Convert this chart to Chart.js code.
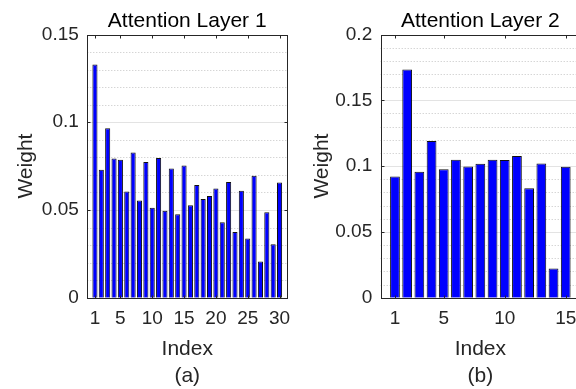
<!DOCTYPE html>
<html>
<head>
<meta charset="utf-8">
<script src="https://cdn.jsdelivr.net/npm/chart.js@4.4.1/dist/chart.umd.min.js"></script>
<style>
  html, body { margin: 0; padding: 0; background: #fff; }
  body { width: 576px; height: 389px; overflow: hidden; position: relative; }
  canvas { position: absolute; top: 0; }
</style>
</head>
<body>
<canvas id="c1" width="300" height="389" style="left:0px"></canvas>
<canvas id="c2" width="300" height="389" style="left:293px"></canvas>
<script>
// ---- Data ----
const LAYER1_INDEX = [1,2,3,4,5,6,7,8,9,10,11,12,13,14,15,16,17,18,19,20,21,22,23,24,25,26,27,28,29,30];
const LAYER1_WEIGHT = [0.1329,0.0729,0.0965,0.0794,0.0786,0.0605,0.0828,0.0554,0.0773,0.0512,
                       0.0796,0.0495,0.0737,0.0476,0.0754,0.0527,0.0642,0.0563,0.0579,0.0622,
                       0.0430,0.0659,0.0375,0.0609,0.0337,0.0695,0.0206,0.0487,0.0305,0.0657];
const LAYER1_XTICKS = [1,5,10,15,20,25,30];
const LAYER1_YTICKS = [0,0.05,0.1,0.15];

const LAYER2_INDEX = [1,2,3,4,5,6,7,8,9,10,11,12,13,14,15];
const LAYER2_WEIGHT = [0.0921,0.1734,0.0957,0.1190,0.0977,0.1048,0.0997,0.1018,0.1048,0.1046,
                       0.1076,0.0832,0.1020,0.0221,0.0995];
const LAYER2_XTICKS = [1,5,10,15];
const LAYER2_YTICKS = [0,0.05,0.1,0.15,0.2];

const TITLES = ['Attention Layer 1', 'Attention Layer 2'];
const X_LABEL = 'Index';
const Y_LABEL = 'Weight';
const SUBLABELS = ['(a)', '(b)'];

Chart.defaults.font.family = "'Liberation Sans', Arial, Helvetica, sans-serif";
Chart.defaults.color = '#262626';

const AXIS_COLOR = '#262626';

const axesPlugin = {
  id: 'matlabAxes',
  beforeDatasetsDraw(chart) {
    const o = chart.options.plugins.matlabAxes;
    const {ctx, chartArea: a, scales: {y}} = chart;
    ctx.save();
    ctx.lineWidth = 1;
    const n = Math.round(y.max / o.minorStep);
    ctx.strokeStyle = '#c4c4c4';
    ctx.setLineDash([1, 2]);
    for (let i = 1; i < n; i++) {
      const v = i * o.minorStep;
      const r = v / o.majorStep;
      if (Math.abs(r - Math.round(r)) < 1e-6) continue;
      const py = Math.round(y.getPixelForValue(v)) + 0.5;
      ctx.beginPath(); ctx.moveTo(a.left, py); ctx.lineTo(a.right, py); ctx.stroke();
    }
    ctx.setLineDash([]);
    ctx.strokeStyle = '#e3e3e3';
    o.yTicks.forEach(v => {
      if (v <= y.min || v >= y.max) return;
      const py = Math.round(y.getPixelForValue(v)) + 0.5;
      ctx.beginPath(); ctx.moveTo(a.left, py); ctx.lineTo(a.right, py); ctx.stroke();
    });
    ctx.restore();
  },
  afterDatasetsDraw(chart) {
    const o = chart.options.plugins.matlabAxes;
    const {ctx, chartArea: a, scales: {x, y}} = chart;
    ctx.save();
    ctx.lineWidth = 1;
    ctx.strokeStyle = AXIS_COLOR;
    const L = Math.round(a.left) + 0.5, R = Math.round(a.right) + 0.5;
    const T = Math.round(a.top) + 0.5, B = Math.round(a.bottom) + 0.5;
    ctx.strokeRect(L, T, R - L, B - T);
    const tl = o.tickLen;
    ctx.beginPath();
    o.xTicks.forEach(v => {
      const px = Math.round(x.getPixelForValue(v)) + 0.5;
      ctx.moveTo(px, B); ctx.lineTo(px, B - tl);
      ctx.moveTo(px, T); ctx.lineTo(px, T + tl);
    });
    o.yTicks.forEach(v => {
      const py = Math.round(y.getPixelForValue(v)) + 0.5;
      ctx.moveTo(L, py); ctx.lineTo(L + tl, py);
      ctx.moveTo(R, py); ctx.lineTo(R - tl, py);
    });
    ctx.stroke();
    ctx.restore();
  }
};

function buildChart(id, cfg) {
  return new Chart(document.getElementById(id), {
    type: 'bar',
    data: {
      datasets: [{
        data: cfg.index.map((xv, i) => ({x: xv, y: cfg.weight[i]})),
        backgroundColor: '#0000ff',
        borderColor: '#111111',
        borderWidth: 1,
        barPercentage: 0.8,
        categoryPercentage: 1
      }]
    },
    plugins: [axesPlugin],
    options: {
      responsive: false,
      animation: false,
      devicePixelRatio: 1,
      layout: {padding: {left: 0, right: cfg.padRight, top: 0, bottom: 0}},
      plugins: {
        legend: {display: false},
        tooltip: {enabled: false},
        title: {
          display: true, text: cfg.title, color: '#000', fullSize: false,
          font: {size: 21, weight: 'normal', lineHeight: 1.2},
          padding: {top: 8.4, bottom: 0.9}
        },
        matlabAxes: {minorStep: 0.01, majorStep: 0.05, xTicks: cfg.xTicks, yTicks: cfg.yTicks, tickLen: 3}
      },
      scales: {
        x: {
          type: 'linear', min: cfg.xMin, max: cfg.xMax, offset: false,
          grid: {display: false, drawTicks: false, offset: false},
          border: {display: false},
          afterBuildTicks: s => { s.ticks = cfg.xTicks.map(v => ({value: v})); },
          afterFit: s => { s.height = 91.3; },
          ticks: {color: AXIS_COLOR, font: {size: 19}, padding: 9.4, maxRotation: 0, autoSkip: false,
                  callback: v => String(v)},
          title: {display: true, text: [X_LABEL, cfg.sub], color: AXIS_COLOR,
                  font: {size: 21, lineHeight: 1.262}, padding: {top: 0, bottom: 0}}
        },
        y: {
          type: 'linear', min: 0, max: cfg.yTicks[cfg.yTicks.length - 1],
          grid: {display: false, drawTicks: false},
          border: {display: false},
          afterBuildTicks: s => { s.ticks = cfg.yTicks.map(v => ({value: v})); },
          afterFit: s => { s.width = cfg.yWidth; },
          ticks: {color: AXIS_COLOR, font: {size: 19}, padding: 8.5,
                  callback: v => String(+Number(v).toFixed(2))},
          title: {display: true, text: Y_LABEL, color: AXIS_COLOR,
                  font: {size: 21, lineHeight: 1.2}, padding: {top: cfg.yTitlePad, bottom: 0}}
        }
      }
    }
  });
}

buildChart('c1', {
  index: LAYER1_INDEX, weight: LAYER1_WEIGHT, xTicks: LAYER1_XTICKS, yTicks: LAYER1_YTICKS,
  title: TITLES[0], sub: SUBLABELS[0], xMin: -0.2, xMax: 31.2,
  padRight: 11.4, yWidth: 87.3, yTitlePad: 13.5
});
buildChart('c2', {
  index: LAYER2_INDEX, weight: LAYER2_WEIGHT, xTicks: LAYER2_XTICKS, yTicks: LAYER2_YTICKS,
  title: TITLES[1], sub: SUBLABELS[1], xMin: -0.17, xMax: 16.17,
  padRight: 13, yWidth: 87.7, yTitlePad: 16.5
});
</script>
</body>
</html>
